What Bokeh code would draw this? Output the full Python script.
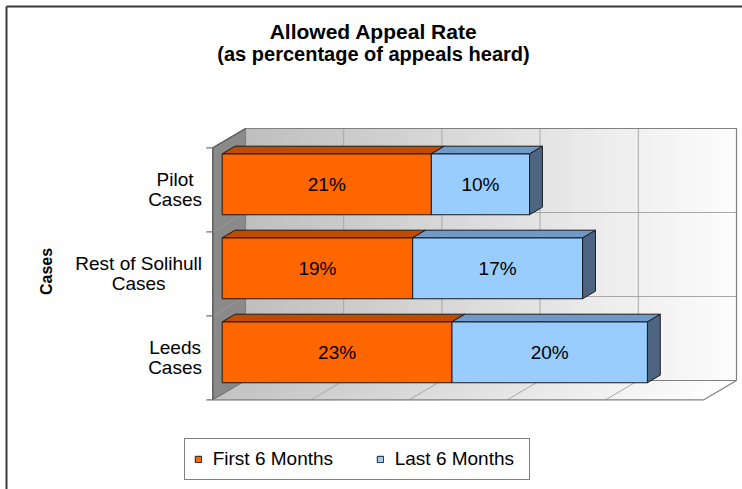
import numpy as np
from bokeh.plotting import figure
from bokeh.models import Range1d, Legend, LegendItem
from bokeh.embed import file_html
from bokeh.resources import INLINE
from bokeh.core.properties import value

# ---------------- data ----------------
categories = ["Pilot\nCases", "Rest of Solihull\nCases", "Leeds\nCases"]
series_names = ["First 6 Months", "Last 6 Months"]
first_6_months = [21.3, 19.4, 23.4]
last_6_months = [10.0, 17.3, 19.9]
axis_max = 50
grid_step = 10
title_text = "Allowed Appeal Rate"
subtitle_text = "(as percentage of appeals heard)"
axis_title = "Cases"

# ---------------- layout (canvas pixels) ----------------
W, H = 742, 489
M = 0
X0, X1 = 212.3, 703.3      # front plane: value 0 .. axis_max
YB, YT = 399.3, 147.3      # front plane: bottom .. top of categories
DEPTH_PX = (32.7, 19.3)    # 3-D depth offset of the walls
BAR_F0, BAR_F1 = 0.287, 0.68
BAR_THICK = 0.726
FONT_NAME = "Liberation Sans"
FONT = value(FONT_NAME)

n = len(categories)
ppx = (X1 - X0) / axis_max
ppy = (YB - YT) / n


def to_x(sx):
    return (sx - X0) / ppx


def to_y(sy):
    return (YB - sy) / ppy


DX = DEPTH_PX[0] / ppx
DY = DEPTH_PX[1] / ppy

p = figure(width=W, height=H, output_backend="svg", toolbar_location=None,
           x_range=Range1d(to_x(M), to_x(M + W)), y_range=Range1d(to_y(M + H), to_y(M)),
           x_axis_location=None, y_axis_location=None, min_border=0, title=None)
p.grid.visible = False
p.outline_line_color = None
p.background_fill_color = "white"
p.border_fill_color = "white"


def lerp_hex(c0, c1, t):
    a = [int(c0[i:i + 2], 16) for i in (1, 3, 5)]
    b = [int(c1[i:i + 2], 16) for i in (1, 3, 5)]
    return "#%02x%02x%02x" % tuple(int(round(a[k] + (b[k] - a[k]) * t)) for k in range(3))


# ---------------- walls (gradient strips) ----------------
NS = 60
edges = np.linspace(0, axis_max, NS + 1)
wall_cols = [lerp_hex("#bebebe", "#fdfdfd", (i + 0.5) / NS) for i in range(NS)]
p.quad(left=edges[:-1] + DX, right=edges[1:] + DX, bottom=DY, top=n + DY,
       fill_color=wall_cols, line_color=wall_cols, line_width=1)
floor_cols = [lerp_hex("#c2c2c2", "#ffffff", (i + 0.5) / NS) for i in range(NS)]
p.patches(xs=[[e0, e1, e1 + DX, e0 + DX] for e0, e1 in zip(edges[:-1], edges[1:])],
          ys=[[0, 0, DY, DY]] * NS, fill_color=floor_cols, line_color=floor_cols, line_width=1)
p.patch([0, DX, DX, 0], [0, DY, n + DY, n], fill_color="#8a8a8a", line_color="#6a6a6a", line_width=1)

# gridlines
gvals = [v for v in range(grid_step, axis_max, grid_step)]
grid_col = "#a8a8a8"
p.segment(x0=[v + DX for v in gvals], y0=DY, x1=[v + DX for v in gvals], y1=n + DY,
          line_color=grid_col, line_width=1)
p.segment(x0=gvals, y0=0, x1=[v + DX for v in gvals], y1=DY, line_color=grid_col, line_width=1)
p.segment(x0=DX, y0=[j + DY for j in range(1, n)], x1=axis_max + DX, y1=[j + DY for j in range(1, n)],
          line_color=grid_col, line_width=1)
p.segment(x0=0, y0=list(range(1, n)), x1=DX, y1=[j + DY for j in range(1, n)],
          line_color="#9a9a9a", line_width=1)

# wall outlines
edge_col = "#808080"
p.line([DX, DX, axis_max + DX, axis_max + DX], [DY, n + DY, n + DY, DY], line_color=edge_col, line_width=1.2)
p.line([DX, axis_max + DX, axis_max, 0], [DY, DY, 0, 0], line_color=edge_col, line_width=1.2)
p.line([0, 0, DX], [0, n, n + DY], line_color="#5a5a5a", line_width=1.2)

# category ticks
tick_len = 6.5 / ppx
p.segment(x0=-tick_len, y0=list(range(n + 1)), x1=0, y1=list(range(n + 1)),
          line_color="#707070", line_width=1.2)

# ---------------- bars ----------------
centers = [n - 1 - k + 0.5 for k in range(n)]
f0x, f0y = BAR_F0 * DX, BAR_F0 * DY
bdx, bdy = (BAR_F1 - BAR_F0) * DX, (BAR_F1 - BAR_F0) * DY
bottoms = [c - BAR_THICK / 2 + f0y for c in centers]
tops = [b + BAR_THICK for b in bottoms]

series_vals = [first_6_months, last_6_months]
front_cols = ["#ff6600", "#99ccff"]
top_cols = ["#c04c00", "#6f9ac8"]
side_cols = ["#a34000", "#4d6583"]
outline = "#1a1a1a"

starts = [f0x] * n
front_renderers = []
for s, vals in enumerate(series_vals):
    ends = [a + v for a, v in zip(starts, vals)]
    # side faces
    p.patches(xs=[[e, e + bdx, e + bdx, e] for e in ends],
              ys=[[b, b + bdy, t + bdy, t] for b, t in zip(bottoms, tops)],
              fill_color=side_cols[s], line_color=outline, line_width=1)
    # front faces
    r = p.quad(left=starts, right=ends, bottom=bottoms, top=tops,
               fill_color=front_cols[s], line_color=outline, line_width=1)
    front_renderers.append(r)
    # top faces
    p.patches(xs=[[a, e, e + bdx, a + bdx] for a, e in zip(starts, ends)],
              ys=[[t, t, t + bdy, t + bdy] for t in tops],
              fill_color=top_cols[s], line_color=outline, line_width=1)
    # value labels
    p.text(x=[(a + e) / 2 for a, e in zip(starts, ends)],
           y=[(b + t) / 2 for b, t in zip(bottoms, tops)],
           text=["%d%%" % round(v) for v in vals], text_align="center", text_baseline="middle",
           text_font=FONT, text_font_size="19px", text_color="#000000")
    starts = ends

# ---------------- category labels ----------------
CW = {'i': .222, 'l': .222, 't': .278, 'f': .278, 'r': .333, ' ': .278, 'I': .278, 'j': .222,
      's': .5, 'c': .5, 'k': .5, 'v': .5, 'x': .5, 'y': .5, 'z': .5, 'm': .833, 'w': .722,
      'M': .833, 'W': .944, 'C': .722, 'R': .722, 'L': .556, 'P': .667, 'S': .667}
lab_px = 19
line_gap = 20 / ppy
right_edge = 201.5
lx, ly, lt = [], [], []
for k, cat in enumerate(categories):
    lines = cat.split("\n")
    wmax = max(sum(CW.get(ch, .556) for ch in ln) for ln in lines) * lab_px
    cx = to_x(right_edge - wmax / 2)
    L = len(lines)
    for j, ln in enumerate(lines):
        lx.append(cx)
        ly.append(centers[k] + (L - 1) / 2 * line_gap - j * line_gap)
        lt.append(ln)
p.text(x=lx, y=ly, text=lt, text_align="center", text_baseline="middle",
       text_font=FONT, text_font_size="%dpx" % lab_px, text_color="#000000")

# axis title
p.text(x=[to_x(46)], y=[to_y(271)], text=[axis_title], angle=np.pi / 2, text_align="center",
       text_baseline="middle", text_font=FONT, text_font_size="16px", text_font_style="bold",
       text_color="#000000")

# chart titles
p.text(x=[to_x(373)], y=[to_y(31)], text=[title_text], text_align="center", text_baseline="middle",
       text_font=FONT, text_font_size="21px", text_font_style="bold", text_color="#000000")
p.text(x=[to_x(373)], y=[to_y(53)], text=[subtitle_text], text_align="center", text_baseline="middle",
       text_font=FONT, text_font_size="20px", text_font_style="bold", text_color="#000000")

# chart border (left & top visible in the reference)
p.segment(x0=[to_x(6), to_x(6)], y0=[to_y(M + H), to_y(6)],
          x1=[to_x(6), to_x(M + W)], y1=[to_y(6), to_y(6)],
          line_color="#3a3a3a", line_width=2)

# ---------------- legend ----------------
legend = Legend(items=[LegendItem(label=nm, renderers=[r]) for nm, r in zip(series_names, front_renderers)],
                orientation="horizontal", location=(183.7, 9), margin=0,
                glyph_width=8, glyph_height=8, label_standoff=11, label_width=125,
                spacing=38, padding=9, border_line_color="#000000", border_line_width=1,
                label_text_font=FONT_NAME, label_text_font_size="19px", label_text_color="#000000",
                background_fill_color="white", background_fill_alpha=1)
p.add_layout(legend, "center")

open("out.html", "w").write(file_html(p, INLINE))
